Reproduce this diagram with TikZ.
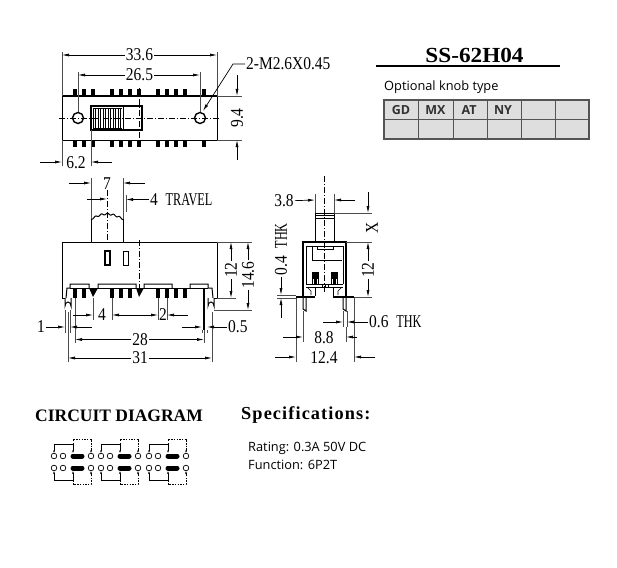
\documentclass[tikz,border=0pt]{standalone}
\usepackage{fontspec}
\setmainfont{Liberation Serif}
\newfontfamily\DimFont[FakeStretch=0.86]{Liberation Serif}
\newfontfamily\CapFont[FakeStretch=0.68]{Liberation Serif}
\newfontfamily\KnobFont{Open Sans}
\newfontfamily\HeadFont[FakeStretch=1.08]{Liberation Serif}
\newfontfamily\SpecFont[LetterSpace=6]{Liberation Serif}
\usetikzlibrary{arrows.meta,calc}
\definecolor{TableClr}{rgb}{0.87,0.87,0.87}
\definecolor{RuleClr}{rgb}{0.33,0.33,0.33}
\tikzset{
  DimTxt/.style={font=\DimFont\fontsize{18}{18}\selectfont,inner sep=1pt},
  DimArr/.style={-{Latex[length=7pt,width=3pt]},line width=0.7pt},
  ExtLn/.style={line width=0.4pt,black!70},
  Part/.style={line width=1pt},
  PartThk/.style={line width=1.4pt},
  CtrLn/.style={line width=0.4pt,dash pattern=on 6pt off 2pt on 1pt off 2pt},
  KnobTxt/.style={font=\KnobFont\bfseries\fontsize{12.5}{14}\selectfont,inner sep=0pt,RuleClr!60!black},
  InfoTxt/.style={font=\KnobFont\fontsize{12.8}{14}\selectfont,inner sep=0pt,anchor=west},
  CirArr/.style={-{Latex[length=2.5pt,width=2pt]},line width=0.5pt},
  CirDash/.style={line width=0.5pt,dash pattern=on 1.5pt off 1.2pt},
}
\begin{document}
\begin{tikzpicture}[x=1pt,y=-1pt]
\useasboundingbox (0,0) rectangle (617,567);
\fill[white] (0,0) rectangle (617,567);

% top view
\draw[Part] (62,96) rectangle (217,140);
\foreach \px in {75,84,93,112,121,130,139,158,167,176,185,204} {
  \fill (\px-1.6,89) rectangle (\px+1.6,96);
  \fill (\px-1.6,140) rectangle (\px+1.6,147);
}
\draw[PartThk] (91,106) rectangle (142,130);
\draw[Part] (123,106) -- (123,130);
\foreach \hx in {93,95.5,...,122} \draw[line width=0.6pt] (\hx,108) -- (\hx,128);
\draw[line width=1pt] (93,108) -- (122,108) (93,128) -- (122,128);
\draw[CtrLn] (139,88) -- (139,147);
\draw[CtrLn] (59,118) -- (219,118);
\draw[PartThk] (78,118) circle (5.5) (200,118) circle (5.5);

\draw[ExtLn] (62,52) -- (62,96) (217,52) -- (217,96);
\draw[ExtLn] (78,72) -- (78,112) (200,72) -- (200,112);
\draw[ExtLn] (217,96) -- (242,96) (217,140) -- (242,140);
\draw[ExtLn] (62,140) -- (62,166) (91,130) -- (91,166);
\node[DimTxt] (TopLen) at (139.5,55) {33.6};
\draw[DimArr] (TopLen) -- (62,55);
\draw[DimArr] (TopLen) -- (217,55);
\node[DimTxt] (TopHole) at (139.5,75) {26.5};
\draw[DimArr] (TopHole) -- (78,75);
\draw[DimArr] (TopHole) -- (200,75);
\node[DimTxt,anchor=west] (ScrewTxt) at (245,64) {2-M2.6X0.45};
\draw[DimArr] (ScrewTxt.west) -- (233,64) -- (203,111);
\node[DimTxt,rotate=90] (TopWid) at (237,118) {9.4};
\coordinate (TopWidA) at (237,75);
\coordinate (TopWidB) at (237,160);
\draw[DimArr] (TopWidA) -- (237,96);
\draw[DimArr] (TopWidB) -- (237,140);
\node[DimTxt] (TopOff) at (76,163) {6.2};
\coordinate (TopOffA) at (40,162);
\coordinate (TopOffB) at (112,162);
\draw[DimArr] (TopOffA) -- (62,162);
\draw[DimArr] (TopOffB) -- (91,162);

% front view
\draw[Part] (65,298) -- (62,298) -- (62,242) -- (217,242) -- (217,298) -- (214,298);
\draw[Part] (91,242) -- (91,219) (123,242) -- (123,219);
\draw[Part] plot[domain=91:123,samples=64,smooth] (\x,{219-5*sin((\x-91)*180/32)+0.8*sin((\x-91)*60)});
\draw[PartThk] (105,251) rectangle (110,265);
\draw[line width=0.7pt] (123,251) rectangle (128,265);
\draw[Part] (66,298) -- (67,288) -- (70,288) -- (70,284) -- (89,284) -- (89,288)
  (98,288) -- (98,284) -- (136,284) -- (136,288)
  (144,288) -- (144,284) -- (172,284) -- (172,288)
  (190,288) -- (190,284) -- (208,284) -- (208,288) -- (212,288) -- (213,298);
\draw[Part] (70,288) -- (208,288);
\fill (89,288) -- (93,297) -- (98,288) -- cycle;
\fill (136,288) -- (139,297) -- (144,288) -- cycle;
\foreach \px in {75,84,112,121,130,158,167,176,185} \fill (\px-1.7,289) rectangle (\px+1.7,298);
\fill (204-1.2,289) rectangle (204+1.2,330);
\draw[Part] (65,298) -- (65,306) arc[start angle=180,end angle=0,x radius=3,y radius=-4] -- (71,298);
\draw[Part] (208,298) -- (208,306) arc[start angle=180,end angle=0,x radius=3,y radius=-4] -- (214,298);
\draw[CtrLn] (107,190) -- (107,242);
\draw[CtrLn] (139,240) -- (139,290);

\draw[ExtLn] (91,178) -- (91,219) (123,178) -- (123,219) (126,195) -- (126,212);
\draw[ExtLn] (217,242) -- (252,242) (217,298) -- (236,298) (214,310) -- (252,310);
\draw[ExtLn] (93,298) -- (93,320) (112,298) -- (112,320) (158,298) -- (158,320) (167,298) -- (167,320);
\draw[ExtLn] (65,310) -- (65,333) (70,310) -- (70,333) (202,330) -- (202,333) (207,330) -- (207,333);
\draw[ExtLn] (75,298) -- (75,343) (204,330) -- (204,343);
\draw[ExtLn] (68,312) -- (68,362) (212,312) -- (212,362);
\node[DimTxt] (KnobWid) at (107,184) {7};
\coordinate (KnobWidA) at (69,183);
\coordinate (KnobWidB) at (145,183);
\draw[DimArr] (KnobWidA) -- (91,183);
\draw[DimArr] (KnobWidB) -- (123,183);
\coordinate (TravA) at (87,199);
\draw[DimArr] (TravA) -- (107,199);
\node[DimTxt,anchor=west] (TravTxt) at (149,199.5) {4\ \ {\CapFont TRAVEL}};
\draw[DimArr] (TravTxt.west) -- (126,199.5);
\node[DimTxt] (PinFour) at (102,315) {4};
\coordinate (PinFourA) at (73,315);
\draw[DimArr] (PinFourA) -- (93,315);
\node[DimTxt] (PinTwo) at (163,314.5) {2};
\coordinate (PinTwoA) at (135,315);
\coordinate (PinTwoB) at (188,315);
\draw[DimArr] (PinTwoA) -- (112,315);
\draw[DimArr] (PinTwoA) -- (158,315);
\draw[DimArr] (PinTwoB) -- (167,315);
\node[DimTxt] (LugOne) at (41,327) {1};
\coordinate (LugOneB) at (92,327);
\draw[DimArr] (LugOne) -- (65,327);
\draw[DimArr] (LugOneB) -- (70,327);
\node[DimTxt,anchor=west] (PinHalf) at (227,327) {0.5};
\coordinate (PinHalfB) at (182,327);
\draw[DimArr] (PinHalf.west) -- (207,327);
\draw[DimArr] (PinHalfB) -- (202,327);
\node[DimTxt] (PinSpan) at (140,339.5) {28};
\draw[DimArr] (PinSpan) -- (75,339.5);
\draw[DimArr] (PinSpan) -- (204,339.5);
\node[DimTxt] (TabSpan) at (140,358) {31};
\draw[DimArr] (TabSpan) -- (68,358);
\draw[DimArr] (TabSpan) -- (212,358);
\node[DimTxt,rotate=90] (BodyHt) at (231,270) {12};
\draw[DimArr] (BodyHt) -- (231,242);
\draw[DimArr] (BodyHt) -- (231,298);
\node[DimTxt,rotate=90] (FullHt) at (248,275) {14.6};
\draw[DimArr] (FullHt) -- (248,242);
\draw[DimArr] (FullHt) -- (248,310);

% side view
\draw[Part] (315,242) -- (315,213) -- (334,213) -- (334,242);
\draw[line width=0.7pt] (315,215) -- (334,215) (315,218) -- (334,218);
\draw[PartThk] (303,297) -- (303,242) -- (346,242) -- (346,297);
\draw[Part] (306,284) -- (306,246) -- (343,246) -- (343,284);
\draw[line width=0.6pt] (312,246) -- (312,260) -- (342,260);
\draw[line width=0.6pt] (317,246) -- (317,249) -- (333,249) -- (333,246);
\foreach \cx in {315.5,334.5} {
  \draw[line width=0.6pt] (\cx-3,272) rectangle (\cx+3,284);
  \fill (\cx-2.5,273) rectangle (\cx+2.5,279);
  \fill (\cx-1.5,279) rectangle (\cx+1.5,284);
}
\draw[line width=0.6pt] (306,284) -- (343,284) (306,287) -- (343,287);
\foreach \tx in {322,325,328} \draw[line width=0.5pt] (\tx,284) -- (\tx,287);
\draw[Part] (315,288) -- (315,296) (333,288) -- (333,296);
\draw[line width=1.8pt] (296,297) -- (315,297) (333,297) -- (354,297);
\draw[line width=0.6pt] (307,287) -- (311,291) -- (311,295) (342,287) -- (338,291) -- (338,295);
\draw[Part] (303,297) -- (303,309) -- (306,311) -- (306,297);
\draw[Part] (343,297) -- (343,309) -- (346,311) -- (346,297);
\draw[CtrLn] (324,176) -- (324,293);

\draw[ExtLn] (315,194) -- (315,213) (334,194) -- (334,213);
\draw[ExtLn] (334,213) -- (372,213) (346,242) -- (372,242) (354,297) -- (372,297);
\draw[ExtLn] (277,295) -- (296,295) (277,298) -- (296,298);
\draw[ExtLn] (343,311) -- (343,327) (347,311) -- (347,327);
\draw[ExtLn] (303,311) -- (303,342) (346,327) -- (346,342);
\draw[ExtLn] (296,298) -- (296,362) (354,298) -- (354,362);
\node[DimTxt] (SideKnob) at (284,201) {3.8};
\coordinate (SideKnobB) at (355,200);
\draw[DimArr] (SideKnob) -- (315,200);
\draw[DimArr] (SideKnobB) -- (334,200);
\node[DimTxt,rotate=90] (SideX) at (372,228) {X};
\coordinate (SideXA) at (368,192);
\draw[DimArr] (SideXA) -- (368,213);
\node[DimTxt,rotate=90] (SideHt) at (368,270) {12};
\draw[DimArr] (SideHt) -- (368,242);
\draw[DimArr] (SideHt) -- (368,297);
\node[DimTxt,rotate=90,anchor=east] (ThkFour) at (281,222) {0.4\ \ {\CapFont THK}};
\coordinate (ThkFourB) at (281,318);
\draw[DimArr] (ThkFour.west) -- (281,295);
\draw[DimArr] (ThkFourB) -- (281,298);
\node[DimTxt,anchor=west] (ThkSix) at (368,322) {0.6\ \ {\CapFont THK}};
\coordinate (ThkSixB) at (323,322);
\draw[DimArr] (ThkSix.west) -- (347,322);
\draw[DimArr] (ThkSixB) -- (343,322);
\node[DimTxt] (SideEight) at (324,338) {8.8};
\coordinate (SideEightA) at (283,337);
\coordinate (SideEightB) at (357,337);
\draw[DimArr] (SideEightA) -- (303,337);
\draw[DimArr] (SideEightB) -- (346,337);
\node[DimTxt] (SideTwelve) at (324,358) {12.4};
\coordinate (SideTwelveA) at (275,357);
\coordinate (SideTwelveB) at (375,357);
\draw[DimArr] (SideTwelveA) -- (296,357);
\draw[DimArr] (SideTwelveB) -- (354,357);

% title and knob table
\node[font=\HeadFont\bfseries\fontsize{21.5}{23}\selectfont,inner sep=0pt] (PartNo) at (474.5,55) {SS-62H04};
\draw[line width=1.5pt] (376,66) -- (560,66);
\node[InfoTxt] (KnobHead) at (384,87) {Optional knob type};
\fill[TableClr] (384,100) rectangle (589,139);
\draw[RuleClr,line width=0.7pt] (384,119) -- (589,119);
\foreach \tx in {418,453,487,521,555} \draw[RuleClr,line width=0.7pt] (\tx,100) -- (\tx,139);
\draw[RuleClr,line width=1.3pt] (384,100) rectangle (589,139);
\node[KnobTxt] (KnobGD) at (401,110) {GD};
\node[KnobTxt] (KnobMX) at (435.5,110) {MX};
\node[KnobTxt] (KnobAT) at (469,110) {AT};
\node[KnobTxt] (KnobNY) at (503,110) {NY};

% circuit
\node[font=\bfseries\fontsize{17.5}{18}\selectfont,inner sep=0pt,anchor=west] (CirHead) at (35,416) {CIRCUIT DIAGRAM};
\node[font=\SpecFont\bfseries\fontsize{18.3}{20}\selectfont,inner sep=0pt,anchor=west] (SpecHead) at (241,415) {Specifications:};
\node[InfoTxt] (SpecRate) at (248,448) {Rating: 0.3A 50V DC};
\node[InfoTxt] (SpecFunc) at (248,465) {Function: 6P2T};
\foreach \ux in {0,47,95} {
  \begin{scope}[xshift=\ux pt]
  \foreach \ry in {456,468} {
    \draw[line width=0.7pt] (54,\ry) circle (2.8) (63,\ry) circle (2.8) (91,\ry) circle (2.8);
    \draw[line width=5pt,line cap=round] (73,\ry) -- (82,\ry);
  }
  \draw[CirArr] (73,444) -- (54,444) -- (54,453);
  \draw[CirArr] (73,444) -- (73,453);
  \draw[CirArr] (73,480) -- (54,480) -- (54,471);
  \draw[CirArr] (73,480) -- (73,471);
  \draw[CirDash] (73,444) -- (73,439) -- (91,439) -- (91,449);
  \draw[CirDash] (73,480) -- (73,484) -- (91,484) -- (91,475);
  \draw[CirArr] (91,449) -- (91,453);
  \draw[CirArr] (91,475) -- (91,471);
  \end{scope}
}
\end{tikzpicture}
\end{document}
